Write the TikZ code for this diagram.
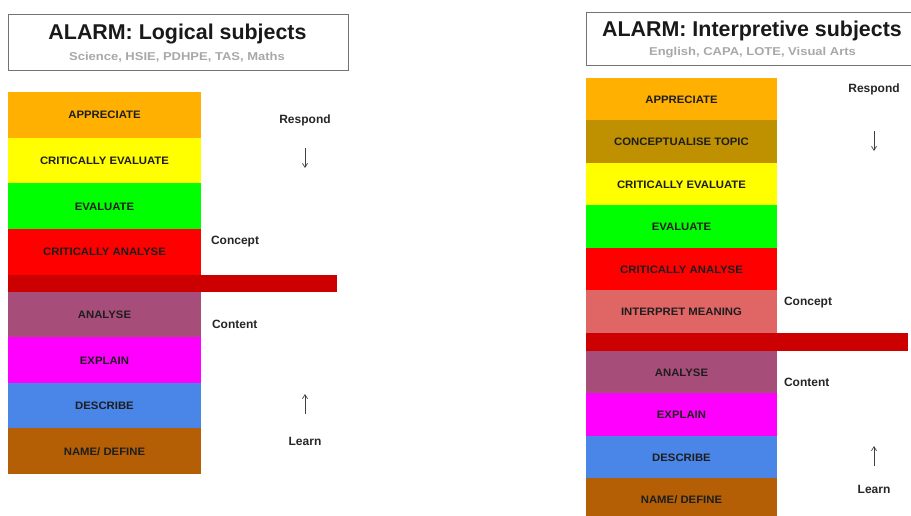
\documentclass[tikz,border=0pt]{standalone}
\usepackage{fontspec}
\setmainfont{Liberation Sans}
\newfontfamily\subsans[FakeStretch=1.14]{Liberation Sans}
\newfontfamily\rungsans[FakeStretch=1.05]{Liberation Sans}
\usetikzlibrary{arrows.meta}

\definecolor{apprOrange}{HTML}{FFB000}
\definecolor{conceptGold}{HTML}{BF9000}
\definecolor{critYellow}{HTML}{FFFF00}
\definecolor{evalGreen}{HTML}{00FF00}
\definecolor{critRed}{HTML}{FF0000}
\definecolor{interpRose}{HTML}{E06666}
\definecolor{barRed}{HTML}{CC0000}
\definecolor{analyseMauve}{HTML}{A64D79}
\definecolor{explainPink}{HTML}{FF00FF}
\definecolor{describeBlue}{HTML}{4A86E8}
\definecolor{nameBrown}{HTML}{B45F06}
\definecolor{subGray}{HTML}{A8A8A8}
\definecolor{boxText}{HTML}{1E1E1E}

\begin{document}
\begin{tikzpicture}[x=1pt,y=-1pt,
		titlebox/.style={draw=black!55,line width=0.8pt,inner sep=0pt},
		titletext/.style={anchor=base,font=\fontsize{21.4}{24}\selectfont\bfseries,text=black!90},
		subtext/.style={anchor=base,font=\subsans\fontsize{11.4}{13}\selectfont\bfseries,text=subGray},
		lrung/.style={minimum width=193pt,minimum height=45.9pt,inner sep=0pt,
			font=\rungsans\fontsize{10.8}{12}\selectfont\bfseries,text=boxText},
		rrung/.style={minimum width=191pt,minimum height=42.7pt,inner sep=0pt,
			font=\rungsans\fontsize{10.8}{12}\selectfont\bfseries,text=boxText},
		sidetext/.style={font=\fontsize{12}{14}\selectfont\bfseries,text=black!85},
		flow/.style={line width=0.7pt,black!75,-{Straight Barb[length=4pt,width=5pt]}}]
		\useasboundingbox (0,0) rectangle (911,515);
		\clip (0,0) rectangle (911,515);
		% left: logical subjects
		\node[titlebox,minimum width=340pt,minimum height=56pt] (lBox) at (178,42) {};
		\node[titletext] (lTitle) at (177.5,39.7) {ALARM: Logical subjects};
		\node[subtext] (lSub) at (177,60.7) {Science, HSIE, PDHPE, TAS, Maths};
		\node[lrung,fill=apprOrange] (lAppr) at (104.5,114.9) {APPRECIATE};
		\node[lrung,fill=critYellow] (lCritEval) at (104.5,160.6) {CRITICALLY EVALUATE};
		\node[lrung,fill=evalGreen] (lEval) at (104.5,206.4) {EVALUATE};
		\node[lrung,fill=critRed] (lCritAn) at (104.5,252.1) {CRITICALLY ANALYSE};
		\node[fill=barRed,minimum width=329pt,minimum height=17pt,inner sep=0pt] (lBar) at (172.5,283.5) {};
		\node[lrung,fill=analyseMauve] (lAnalyse) at (104.5,314.8) {ANALYSE};
		\node[lrung,fill=explainPink] (lExplain) at (104.5,360.3) {EXPLAIN};
		\node[lrung,fill=describeBlue] (lDescribe) at (104.5,405.8) {DESCRIBE};
		\node[lrung,fill=nameBrown] (lName) at (104.5,451.3) {NAME/ DEFINE};
		\node[sidetext] (lRespond) at (305,120) {Respond};
		\node[sidetext,anchor=west] (lConcept) at (207.5,242) {Concept};
		\node[sidetext,anchor=west] (lContent) at (208.5,324) {Content};
		\node[sidetext] (lLearn) at (305,441) {Learn};
		\coordinate (lDownA) at (305,148);
		\coordinate (lDownB) at (305,168);
		\coordinate (lUpA) at (305,414);
		\coordinate (lUpB) at (305,394);
		\draw[flow] (lDownA) -- (lDownB);
		\draw[flow] (lUpA) -- (lUpB);
		% right: interpretive subjects
		\node[titlebox,minimum width=330pt,minimum height=53pt] (rBox) at (751.5,38.5) {};
		\node[titletext] (rTitle) at (752,36) {ALARM: Interpretive subjects};
		\node[subtext] (rSub) at (752.5,55.7) {English, CAPA, LOTE, Visual Arts};
		\node[rrung,fill=apprOrange] (rAppr) at (681.5,99.3) {APPRECIATE};
		\node[rrung,fill=conceptGold] (rConcept) at (681.5,141.8) {CONCEPTUALISE TOPIC};
		\node[rrung,fill=critYellow] (rCritEval) at (681.5,184.3) {CRITICALLY EVALUATE};
		\node[rrung,fill=evalGreen] (rEval) at (681.5,226.8) {EVALUATE};
		\node[rrung,fill=critRed] (rCritAn) at (681.5,269.3) {CRITICALLY ANALYSE};
		\node[rrung,fill=interpRose] (rInterp) at (681.5,311.8) {INTERPRET MEANING};
		\node[fill=barRed,minimum width=322pt,minimum height=18pt,inner sep=0pt] (rBar) at (747,342) {};
		\node[rrung,fill=analyseMauve] (rAnalyse) at (681.5,372.3) {ANALYSE};
		\node[rrung,fill=explainPink] (rExplain) at (681.5,414.8) {EXPLAIN};
		\node[rrung,fill=describeBlue] (rDescribe) at (681.5,457.3) {DESCRIBE};
		\node[rrung,fill=nameBrown] (rName) at (681.5,499.8) {NAME/ DEFINE};
		\node[sidetext] (rRespond) at (874,89) {Respond};
		\node[sidetext,anchor=west] (rConceptLbl) at (780.5,303) {Concept};
		\node[sidetext,anchor=west] (rContent) at (780.5,382) {Content};
		\node[sidetext] (rLearn) at (874,489) {Learn};
		\coordinate (rDownA) at (874,131);
		\coordinate (rDownB) at (874,151);
		\coordinate (rUpA) at (874,466);
		\coordinate (rUpB) at (874,446);
		\draw[flow] (rDownA) -- (rDownB);
		\draw[flow] (rUpA) -- (rUpB);
	\end{tikzpicture}
\end{document}
